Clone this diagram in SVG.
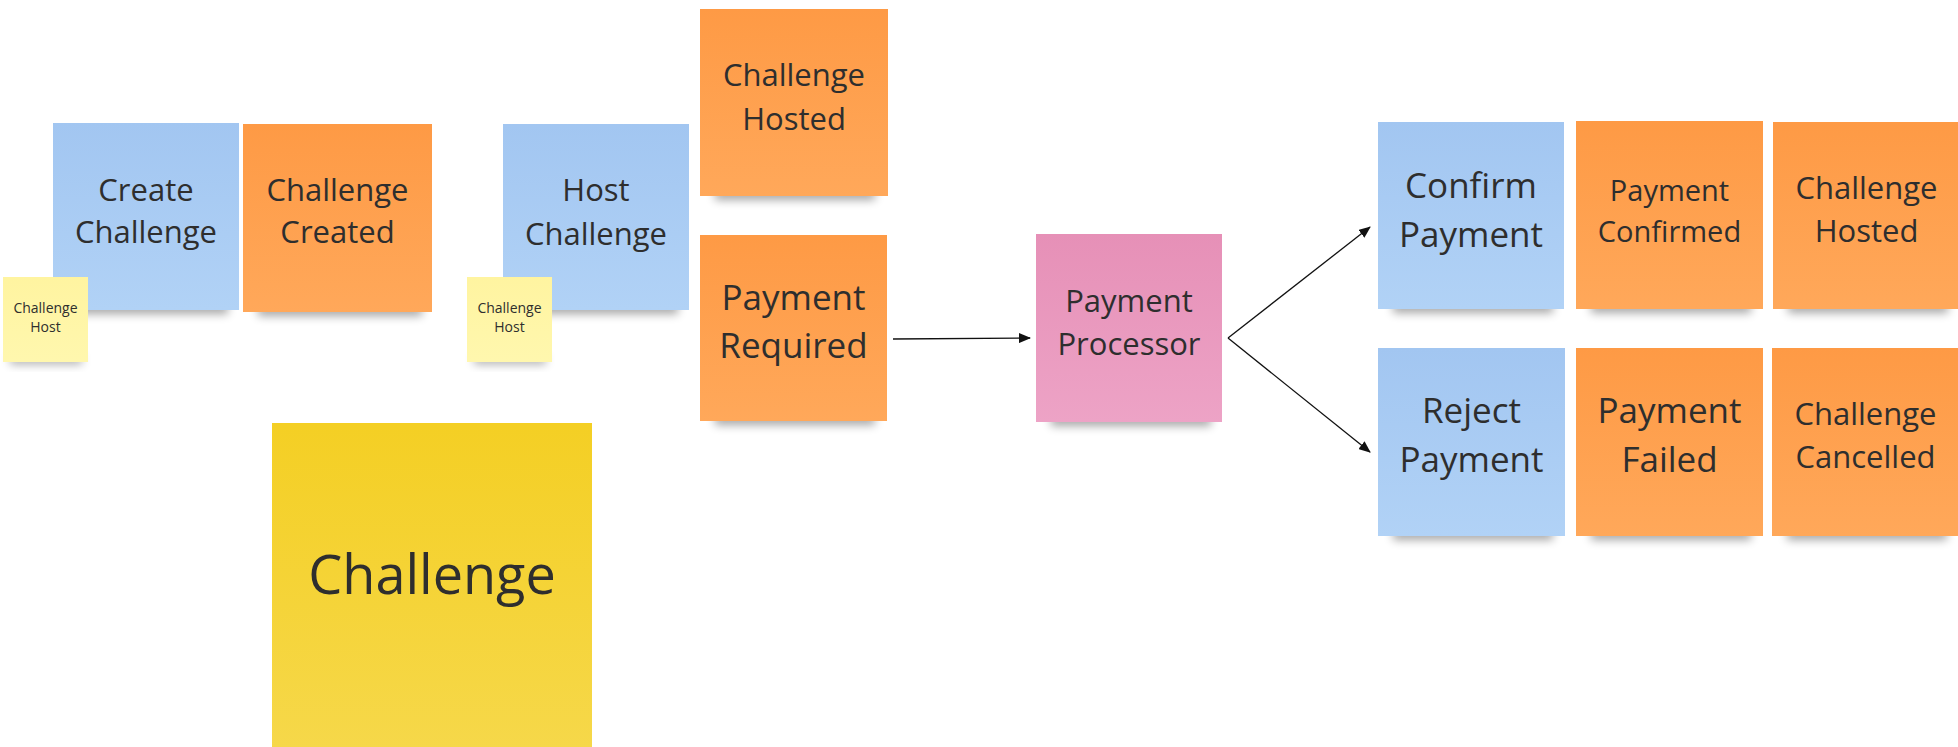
<svg xmlns="http://www.w3.org/2000/svg" width="1958" height="747" viewBox="0 0 1958 747">
<defs>
<linearGradient id="gBlue" x1="0" y1="0" x2="0" y2="1"><stop offset="0" stop-color="#a2c6f1"/><stop offset="1" stop-color="#b1d2f6"/></linearGradient>
<linearGradient id="gOrange" x1="0" y1="0" x2="0" y2="1"><stop offset="0" stop-color="#fe9a45"/><stop offset="1" stop-color="#ffa85a"/></linearGradient>
<linearGradient id="gPink" x1="0" y1="0" x2="0" y2="1"><stop offset="0" stop-color="#e690b7"/><stop offset="1" stop-color="#eda3c6"/></linearGradient>
<linearGradient id="gLight" x1="0" y1="0" x2="0" y2="1"><stop offset="0" stop-color="#fff4a0"/><stop offset="1" stop-color="#fff7ae"/></linearGradient>
<linearGradient id="gYellow" x1="0" y1="0" x2="0" y2="1"><stop offset="0" stop-color="#f4cf24"/><stop offset="1" stop-color="#f6d84a"/></linearGradient>
<filter id="blur" x="-20%" y="-100%" width="140%" height="300%"><feGaussianBlur stdDeviation="5"/></filter>
<marker id="arr" markerWidth="12" markerHeight="10" refX="11" refY="5" orient="auto" markerUnits="userSpaceOnUse"><path d="M0,0 L12,5 L0,10 Z" fill="#111"/></marker>
</defs>
<style>
.t{font-family:"Open Sans","Noto Sans","Liberation Sans",sans-serif;fill:#2e2e2e;text-anchor:middle}
.s{fill:#000;opacity:0.35;filter:url(#blur)}
.blue{fill:url(#gBlue)}
.orange{fill:url(#gOrange)}
.pink{fill:url(#gPink)}
.light{fill:url(#gLight)}
.yellow{fill:url(#gYellow)}
.c{stroke:#111;stroke-width:1.3;fill:none;marker-end:url(#arr)}
</style>
<rect width="1958" height="747" fill="#ffffff"/>

<g id="create-challenge">
<rect class="s" x="68" y="302" width="160" height="12"/>
<rect class="blue" x="53" y="123" width="186" height="187"/>
<text class="t" font-size="31"><tspan x="146" y="201">Create</tspan><tspan x="146" y="243">Challenge</tspan></text>
</g>
<g id="challenge-created">
<rect class="s" x="258" y="304" width="164" height="12"/>
<rect class="orange" x="243" y="124" width="189" height="188"/>
<text class="t" font-size="31"><tspan x="337.5" y="201">Challenge</tspan><tspan x="337.5" y="243">Created</tspan></text>
</g>
<g id="challenge-host-1">
<rect class="s" x="10" y="356" width="72" height="8"/>
<rect class="light" x="3" y="277" width="85" height="85"/>
<text class="t" font-size="14"><tspan x="45.5" y="313">Challenge</tspan><tspan x="45.5" y="332">Host</tspan></text>
</g>
<g id="host-challenge">
<rect class="s" x="518" y="302" width="160" height="12"/>
<rect class="blue" x="503" y="124" width="186" height="186"/>
<text class="t" font-size="31"><tspan x="596" y="201">Host</tspan><tspan x="596" y="245">Challenge</tspan></text>
</g>
<g id="challenge-host-2">
<rect class="s" x="474" y="356" width="72" height="8"/>
<rect class="light" x="467" y="277" width="85" height="85"/>
<text class="t" font-size="14"><tspan x="509.5" y="313">Challenge</tspan><tspan x="509.5" y="332">Host</tspan></text>
</g>
<g id="challenge-hosted-1">
<rect class="s" x="715" y="188" width="160" height="12"/>
<rect class="orange" x="700" y="9" width="188" height="187"/>
<text class="t" font-size="31"><tspan x="794" y="86">Challenge</tspan><tspan x="794" y="130">Hosted</tspan></text>
</g>
<g id="payment-required">
<rect class="s" x="715" y="413" width="160" height="12"/>
<rect class="orange" x="700" y="235" width="187" height="186"/>
<text class="t" font-size="35"><tspan x="793.5" y="310">Payment</tspan><tspan x="793.5" y="358">Required</tspan></text>
</g>
<g id="payment-processor">
<rect class="s" x="1051" y="414" width="160" height="12"/>
<rect class="pink" x="1036" y="234" width="186" height="188"/>
<text class="t" font-size="31"><tspan x="1129" y="312">Payment</tspan><tspan x="1129" y="355">Processor</tspan></text>
</g>
<g id="confirm-payment">
<rect class="s" x="1393" y="301" width="160" height="12"/>
<rect class="blue" x="1378" y="122" width="186" height="187"/>
<text class="t" font-size="35"><tspan x="1471" y="198">Confirm</tspan><tspan x="1471" y="247">Payment</tspan></text>
</g>
<g id="payment-confirmed">
<rect class="s" x="1591" y="301" width="160" height="12"/>
<rect class="orange" x="1576" y="121" width="187" height="188"/>
<text class="t" font-size="29"><tspan x="1669.5" y="201">Payment</tspan><tspan x="1669.5" y="242">Confirmed</tspan></text>
</g>
<g id="challenge-hosted-2">
<rect class="s" x="1788" y="301" width="160" height="12"/>
<rect class="orange" x="1773" y="122" width="187" height="187"/>
<text class="t" font-size="31"><tspan x="1866.5" y="199">Challenge</tspan><tspan x="1866.5" y="242">Hosted</tspan></text>
</g>
<g id="reject-payment">
<rect class="s" x="1393" y="528" width="160" height="12"/>
<rect class="blue" x="1378" y="348" width="187" height="188"/>
<text class="t" font-size="35"><tspan x="1471.5" y="423">Reject</tspan><tspan x="1471.5" y="472">Payment</tspan></text>
</g>
<g id="payment-failed">
<rect class="s" x="1591" y="528" width="160" height="12"/>
<rect class="orange" x="1576" y="348" width="187" height="188"/>
<text class="t" font-size="35"><tspan x="1669.5" y="423">Payment</tspan><tspan x="1669.5" y="472">Failed</tspan></text>
</g>
<g id="challenge-cancelled">
<rect class="s" x="1787" y="528" width="160" height="12"/>
<rect class="orange" x="1772" y="348" width="187" height="188"/>
<text class="t" font-size="31"><tspan x="1865.5" y="425">Challenge</tspan><tspan x="1865.5" y="468">Cancelled</tspan></text>
</g>
<g id="challenge">
<rect class="yellow" x="272" y="423" width="320" height="330"/>
<text class="t" font-size="54" x="432" y="594">Challenge</text>
</g>

<g id="connectors">
<line class="c" x1="893" y1="339" x2="1030" y2="338"/>
<line class="c" x1="1228" y1="338" x2="1370" y2="227"/>
<line class="c" x1="1228" y1="338" x2="1370" y2="452"/>
</g>
</svg>
